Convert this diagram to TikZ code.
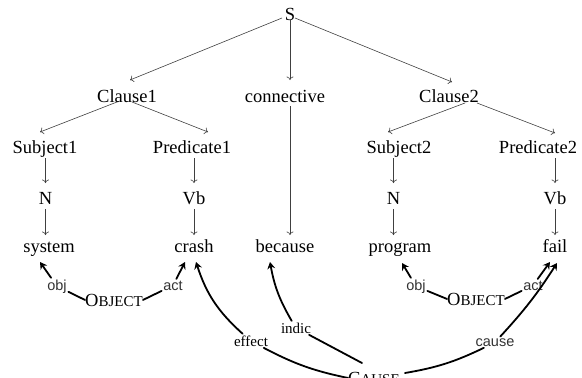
\documentclass[tikz,border=0pt]{standalone}
\usepackage{fontspec}
\setmainfont{Liberation Serif}
\newfontfamily\lblsans{Liberation Sans}
\usetikzlibrary{arrows.meta,calc}
\begin{document}
\begin{tikzpicture}[x=1pt,y=-1pt,
  word/.style={inner sep=0pt,anchor=base,font=\fontsize{18.5}{20}\selectfont},
  sml/.style={inner sep=1.5pt,anchor=base,font=\lblsans\fontsize{14.5}{16}\selectfont,text=black!80},
  serl/.style={inner sep=1.5pt,anchor=base,font=\fontsize{15}{17}\selectfont},
  tree/.style={draw=black!75,line width=0.6pt,-{To[length=3.5pt,width=7pt]}},
  rel/.style={line width=1.8pt,line cap=round},
  relarr/.style={rel,-{Stealth[length=7pt,width=8pt,inset=2.5pt]}},
]
\useasboundingbox (0,0) rectangle (582,378);
\clip (0,0) rectangle (582,378);
% tree nodes
\node[word] (S) at (290,20) {S};
\node[word] (c1) at (127,102) {Clause1};
\node[word] (conn) at (285,102) {connective};
\node[word] (c2) at (449,102) {Clause2};
\node[word] (s1) at (45,153) {Subject1};
\node[word] (p1) at (192,153) {Predicate1};
\node[word] (s2) at (399,153) {Subject2};
\node[word] (p2) at (538,153) {Predicate2};
\node[word] (n1) at (45.5,204) {N};
\node[word] (v1) at (194,204) {Vb};
\node[word] (n2) at (393.5,204) {N};
\node[word] (v2) at (555,204) {Vb};
\node[word] (w1) at (49,252) {system};
\node[word] (w2) at (194,252) {crash};
\node[word] (w3) at (285,252) {because};
\node[word] (w4) at (400,252) {program};
\node[word] (w5) at (555,252) {fail};
% relation nodes
\node[word] (o1) at (114,306) {O{\fontsize{15}{16}\selectfont BJECT}};
\node[word] (o2) at (476,305) {O{\fontsize{15}{16}\selectfont BJECT}};
\node[word] (ca) at (374,384) {C{\fontsize{15}{16}\selectfont AUSE}};
\node[sml] (ob1) at (57,290) {obj};
\node[sml] (ac1) at (173,290) {act};
\node[sml] (ob2) at (416,290) {obj};
\node[sml] (ac2) at (533,290) {act};
\node[serl] (ef) at (251,346) {effect};
\node[serl] (in) at (296,333) {indic};
\node[sml] (cs) at (495,346) {cause};
% arrow end points
\coordinate (t1) at ($(w1.base)+(-9,10)$);
\coordinate (t2) at ($(w2.base)+(-9,10)$);
\coordinate (t3) at ($(w4.base)+(2,11)$);
\coordinate (t4) at ($(w5.base)+(-5,10)$);
\coordinate (t5) at ($(w2.base)+(2,10)$);
\coordinate (t6) at ($(w3.base)+(-15,10)$);
\coordinate (t7) at ($(w5.base)+(2,11)$);
\coordinate (caN) at ($(ca.base)+(-12,-21)$);
\coordinate (caE) at ($(ca.base)+(31,-11)$);
% tree connectors
\draw[tree] ($(S.base)+(-8,-2)$) -- ($(c1.base)+(3,-22)$);
\draw[tree] (S.south) -- ($(conn.base)+(5,-22)$);
\draw[tree] ($(S.base)+(5,-2)$) -- ($(c2.base)+(3,-20)$);
\draw[tree] ($(c1.base)+(-10,0)$) -- ($(s1.base)+(-5,-21)$);
\draw[tree] ($(c1.base)+(5,0)$) -- ($(p1.base)+(16,-21)$);
\draw[tree] ($(c2.base)+(16,1)$) -- ($(s2.base)+(-11,-21)$);
\draw[tree] ($(c2.base)+(28,1)$) -- ($(p2.base)+(17,-20)$);
\draw[tree] ($(n1.base)+(0,-46)$) -- ($(n1.base)+(0,-21)$);
\draw[tree] ($(v1.base)+(0,-46)$) -- ($(v1.base)+(0,-21)$);
\draw[tree] ($(n2.base)+(0,-46)$) -- ($(n2.base)+(0,-21)$);
\draw[tree] ($(v2.base)+(0,-46)$) -- ($(v2.base)+(0,-21)$);
\draw[tree] ($(n1.base)+(0,5)$) -- ($(n1.base)+(0,31)$);
\draw[tree] ($(v1.base)+(0,5)$) -- ($(v1.base)+(0,31)$);
\draw[tree] ($(n2.base)+(0,5)$) -- ($(n2.base)+(0,31)$);
\draw[tree] ($(v2.base)+(0,5)$) -- ($(v2.base)+(0,31)$);
\draw[tree] ($(conn.base)+(5,4)$) -- ($(conn.base)+(5,133)$);
% relation connectors
\draw[rel] (o1.west) -- (ob1);
\draw[relarr] (ob1) -- (t1);
\draw[rel] (o1.east) -- (ac1);
\draw[relarr] (ac1) -- (t2);
\draw[rel] (o2.west) -- (ob2);
\draw[relarr] (ob2) -- (t3);
\draw[rel] (o2.east) -- (ac2);
\draw[relarr] (ac2) -- (t4);
\draw[rel] (ca.west) to[bend left=8] (ef);
\draw[relarr] (ef) to[bend left=15] (t5);
\draw[rel] (caN) -- (in);
\draw[relarr] (in) to[bend left=10] (t6);
\draw[rel] (caE) to[bend right=8] (cs);
\draw[relarr] (cs) to[bend right=5] (t7);
\end{tikzpicture}
\end{document}
